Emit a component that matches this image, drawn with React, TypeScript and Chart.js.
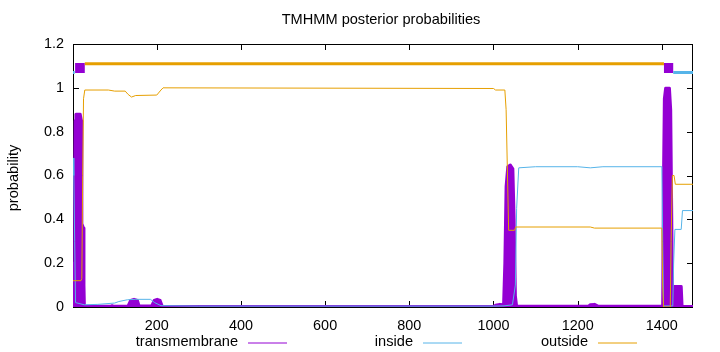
import { useEffect, useRef } from "react";
import { Chart, registerables } from "chart.js";

Chart.register(...registerables);

const TITLE = "TMHMM posterior probabilities";
const Y_LABEL = "probability";
const SERIES_NAMES = ["transmembrane", "inside", "outside"];
const SERIES_COLORS = ["#9400d3", "#56b4e9", "#e69f00"];

const X_MIN = 1;
const X_MAX = 1474;
const X_TICKS = [200, 400, 600, 800, 1000, 1200, 1400];
const Y_TICKS = [0, 0.2, 0.4, 0.6, 0.8, 1, 1.2];

// transmembrane posterior
const tmPos = [1, 4, 5, 6, 8, 18, 21, 22, 26, 27, 28, 90, 94, 98, 132, 138, 146, 154, 158, 188, 194, 201, 208, 213, 400, 1000, 1005, 1015, 1024, 1027, 1030, 1034, 1040, 1046, 1049, 1052, 1055, 1225, 1230, 1240, 1248, 1400, 1402, 1404, 1406, 1409, 1418, 1421, 1423, 1425, 1428, 1446, 1448, 1474];
const tmProb = [0.2, 0.2, 0.6, 0.85, 0.88, 0.88, 0.85, 0.38, 0.36, 0.1, 0.005, 0.003, 0.006, 0.003, 0.005, 0.03, 0.035, 0.03, 0.005, 0.005, 0.03, 0.035, 0.03, 0.003, 0.002, 0.003, 0.008, 0.012, 0.01, 0.2, 0.55, 0.64, 0.648, 0.63, 0.4, 0.05, 0.003, 0.003, 0.01, 0.012, 0.004, 0.003, 0.01, 0.6, 0.95, 0.998, 0.998, 0.9, 0.5, 0.1, 0.093, 0.093, 0.003, 0.002];

// inside posterior
const inPos = [1, 3, 5, 7, 28, 60, 100, 110, 130, 150, 185, 195, 210, 300, 1000, 1025, 1045, 1052, 1055, 1060, 1100, 1200, 1230, 1260, 1400, 1402, 1404, 1426, 1428, 1431, 1446, 1449, 1474];
const inProb = [0.68, 0.6, 0.3, 0.02, 0.01, 0.012, 0.018, 0.025, 0.033, 0.035, 0.035, 0.02, 0.006, 0.004, 0.004, 0.005, 0.01, 0.1, 0.45, 0.635, 0.64, 0.64, 0.635, 0.64, 0.64, 0.3, 0.005, 0.005, 0.2, 0.354, 0.354, 0.44, 0.44];

// outside posterior
const outPos = [1, 20, 22, 24, 26, 29, 85, 100, 125, 132, 140, 150, 200, 210, 215, 1000, 1005, 1027, 1030, 1036, 1050, 1053, 1230, 1240, 1400, 1402, 1404, 1420, 1422, 1425, 1429, 1432, 1474];
const outProb = [0.12, 0.12, 0.13, 0.6, 0.95, 0.99, 0.99, 0.985, 0.985, 0.97, 0.958, 0.965, 0.967, 0.99, 1.0, 0.997, 0.99, 0.99, 0.9, 0.35, 0.35, 0.365, 0.365, 0.36, 0.36, 0.1, 0.0, 0.0, 0.3, 0.6, 0.6, 0.56, 0.56];

// predicted topology (top bars)
const topInsideSegs = [[1, 5], [1427, 1474]];
const topTmSegs = [[6, 29], [1405, 1427]];
const topOutsideSegs = [[29, 1405]];
const TOP_LEVELS = [1.09, 1.07, 1.11]; // tm, inside, outside

const FONT = '"Liberation Sans", Arial, Helvetica, sans-serif';

function pts(xs: number[], ys: number[]) {
  return xs.map((x, i) => ({ x, y: ys[i] }));
}
function segs(list: number[][], level: number) {
  const out: { x: number; y: number | null }[] = [];
  list.forEach(([a, b], i) => {
    if (i > 0) out.push({ x: (list[i - 1][1] + a) / 2, y: null });
    out.push({ x: a, y: level }, { x: b, y: level });
  });
  return out;
}

const framePlugin = {
  id: "frame",
  beforeDatasetsDraw(chart: any) {
    const { ctx, chartArea: a, scales } = chart;
    ctx.save();
    ctx.strokeStyle = "#000";
    ctx.lineWidth = 1;
    ctx.beginPath();
    ctx.rect(a.left + 0.5, a.top + 0.5, a.right - a.left - 1, a.bottom - a.top);
    ctx.stroke();
    const tl = 6;
    ctx.beginPath();
    X_TICKS.forEach((v) => {
      const px = Math.round(scales.x.getPixelForValue(v)) + 0.5;
      ctx.moveTo(px, a.bottom);
      ctx.lineTo(px, a.bottom - tl);
      ctx.moveTo(px, a.top);
      ctx.lineTo(px, a.top + tl);
    });
    Y_TICKS.forEach((v) => {
      const py = Math.round(scales.y.getPixelForValue(v)) + 0.5;
      ctx.moveTo(a.left, py);
      ctx.lineTo(a.left + tl, py);
      ctx.moveTo(a.right, py);
      ctx.lineTo(a.right - tl, py);
    });
    ctx.stroke();
    ctx.restore();
  },
  afterDraw(chart: any) {
    const { ctx } = chart;
    ctx.save();
    ctx.fillStyle = "#000";
    ctx.font = `14.6px ${FONT}`;
    ctx.textBaseline = "middle";
    ctx.textAlign = "center";
    ctx.fillText(TITLE, 381, 20);
    ctx.save();
    ctx.translate(14, 178);
    ctx.rotate(-Math.PI / 2);
    ctx.fillText(Y_LABEL, 0, 0);
    ctx.restore();
    const textRight = [238, 413, 588];
    ctx.textAlign = "right";
    SERIES_NAMES.forEach((name, i) => {
      const xr = textRight[i];
      ctx.fillStyle = "#000";
      ctx.fillText(name, xr, 342);
      ctx.strokeStyle = SERIES_COLORS[i];
      ctx.lineWidth = 1;
      ctx.beginPath();
      ctx.moveTo(xr + 10, 343);
      ctx.lineTo(xr + 49, 343);
      ctx.stroke();
    });
    ctx.restore();
  },
};

export default function App() {
  const ref = useRef<HTMLCanvasElement | null>(null);
  useEffect(() => {
    document.body.style.margin = "0";
    const canvas = ref.current;
    if (!canvas) return;
    const lineBase = { pointRadius: 0, tension: 0, spanGaps: false, fill: false };
    const chart = new Chart(canvas, {
      type: "line",
      data: {
        datasets: [
          { ...lineBase, label: "outside-top", data: segs(topOutsideSegs, TOP_LEVELS[2]), borderColor: SERIES_COLORS[2], borderWidth: 3, borderCapStyle: "butt", order: 1 },
          { ...lineBase, label: "inside-top", data: segs(topInsideSegs, TOP_LEVELS[1]), borderColor: SERIES_COLORS[1], borderWidth: 3, borderCapStyle: "butt", order: 1 },
          { ...lineBase, label: "tm-top", data: segs(topTmSegs, TOP_LEVELS[0]), borderColor: SERIES_COLORS[0], borderWidth: 10, borderCapStyle: "butt", order: 1 },
          { ...lineBase, label: SERIES_NAMES[2], data: pts(outPos, outProb), borderColor: SERIES_COLORS[2], borderWidth: 1, order: 2 },
          { ...lineBase, label: SERIES_NAMES[1], data: pts(inPos, inProb), borderColor: SERIES_COLORS[1], borderWidth: 1, order: 3 },
          { ...lineBase, label: SERIES_NAMES[0], data: pts(tmPos, tmProb), borderColor: SERIES_COLORS[0], backgroundColor: SERIES_COLORS[0], borderWidth: 3, borderJoinStyle: "round", fill: "origin", order: 4 },
        ] as any,
      },
      options: {
        responsive: false,
        animation: false,
        events: [],
        layout: { padding: { top: 44, right: 27, left: 0, bottom: 0 } },
        plugins: { legend: { display: false }, tooltip: { enabled: false }, title: { display: false } },
        scales: {
          x: {
            type: "linear",
            min: X_MIN,
            max: X_MAX,
            grid: { display: false, drawTicks: false },
            border: { display: false },
            ticks: { color: "#000", font: { family: FONT, size: 14.4 }, padding: 10, maxRotation: 0, autoSkip: false, callback: (v: any) => String(v) },
            afterBuildTicks: (s: any) => { s.ticks = X_TICKS.map((v) => ({ value: v })); },
            afterFit: (s: any) => { s.height = 45; },
          },
          y: {
            type: "linear",
            min: 0,
            max: 1.2,
            grid: { display: false, drawTicks: false },
            border: { display: false },
            ticks: { color: "#000", font: { family: FONT, size: 14.4 }, padding: 9, callback: (v: any) => String(+Number(v).toFixed(1)) },
            afterBuildTicks: (s: any) => { s.ticks = Y_TICKS.map((v) => ({ value: v })); },
            afterFit: (s: any) => { s.width = 73; },
          },
        },
      } as any,
      plugins: [framePlugin],
    });
    return () => chart.destroy();
  }, []);
  return (
    <div style={{ width: 720, height: 352, background: "#fff" }}>
      <canvas ref={ref} width={720} height={352} style={{ display: "block" }} />
    </div>
  );
}
